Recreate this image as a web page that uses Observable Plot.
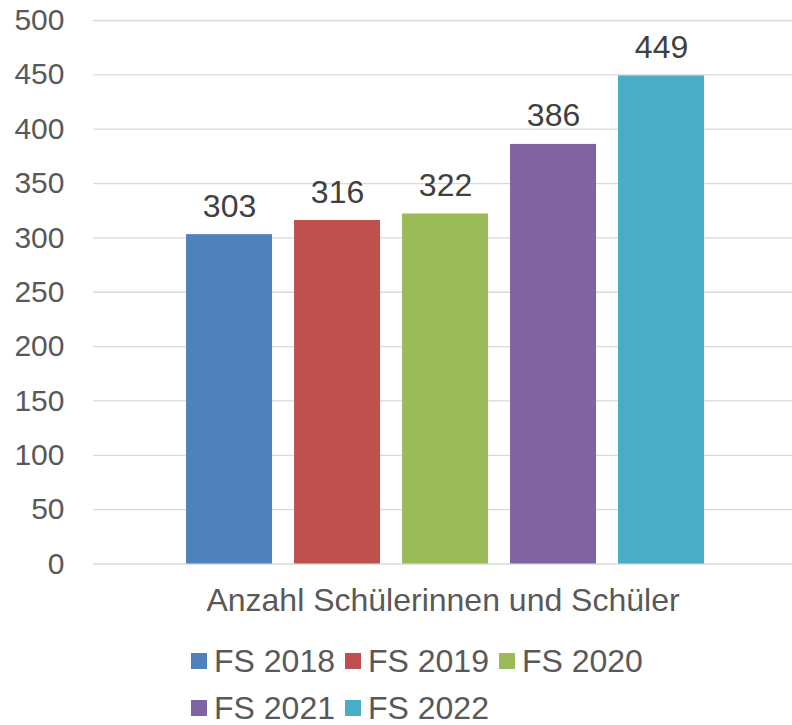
<!DOCTYPE html>
<html>
<head>
<meta charset="utf-8">
<script src="https://cdn.jsdelivr.net/npm/d3@7"></script>
<script src="https://cdn.jsdelivr.net/npm/@observablehq/plot@0.6"></script>
<style>
  html, body { margin: 0; padding: 0; background: #fff; }
  body { width: 792px; height: 725px; overflow: hidden; font-family: "Liberation Sans", Arial, sans-serif; }
  #chart svg { display: block; }
  #legend { display: flex; flex-wrap: wrap; width: 470px; margin-left: 191px; margin-top: 1.5px; }
  .item { display: flex; align-items: center; height: 47px; margin-right: 10px; }
  .sw { width: 16px; height: 16px; margin-right: 7px; flex: none; }
  .lab { font-size: 32px; color: #595959; line-height: 24px; white-space: nowrap; }
</style>
</head>
<body>
<div id="chart"></div>
<div id="legend"></div>
<script>
const series = ["FS 2018", "FS 2019", "FS 2020", "FS 2021", "FS 2022"];
const values = [303, 316, 322, 386, 449];
const colors = ["#4F81BD", "#C0504D", "#9BBB59", "#8064A2", "#4BACC6"];
const category = "Anzahl Schülerinnen und Schüler";
const yTicks = [0, 50, 100, 150, 200, 250, 300, 350, 400, 450, 500];

const data = series.map((s, i) => ({series: s, value: values[i]}));

const chart = Plot.plot({
  width: 792,
  height: 636,
  marginLeft: 93,
  marginRight: 0,
  marginTop: 20,
  marginBottom: 72.5,
  style: {fontFamily: "'Liberation Sans', Arial, sans-serif", fontSize: "30px", color: "#595959", background: "white"},
  x: {domain: series, paddingInner: 0.2037, paddingOuter: 0.838, align: 0.514, round: false, axis: null},
  y: {domain: [0, 500]},
  color: {domain: series, range: colors},
  marks: [
    Plot.gridY(yTicks, {stroke: "#d9d9d9", strokeOpacity: 1, strokeWidth: 1.3}),
    Plot.axisY(yTicks, {tickSize: 0, tickPadding: 29, fontSize: 30, fill: "#595959", label: null}),
    Plot.barY(data, {x: "series", y: "value", fill: "series"}),
    Plot.text(data, {x: "series", y: "value", text: d => String(d.value), dy: -18, lineAnchor: "bottom", fill: "#404040", fontSize: 32}),
    Plot.text([category], {text: d => d, frameAnchor: "bottom", dy: 36.5, lineAnchor: "middle", fontSize: 32, fill: "#595959"})
  ]
});
document.getElementById("chart").appendChild(chart);

const legend = document.getElementById("legend");
series.forEach((s, i) => {
  const item = document.createElement("div");
  item.className = "item";
  const sw = document.createElement("div");
  sw.className = "sw";
  sw.style.background = colors[i];
  const lab = document.createElement("span");
  lab.className = "lab";
  lab.textContent = s;
  item.appendChild(sw);
  item.appendChild(lab);
  legend.appendChild(item);
});
</script>
</body>
</html>
